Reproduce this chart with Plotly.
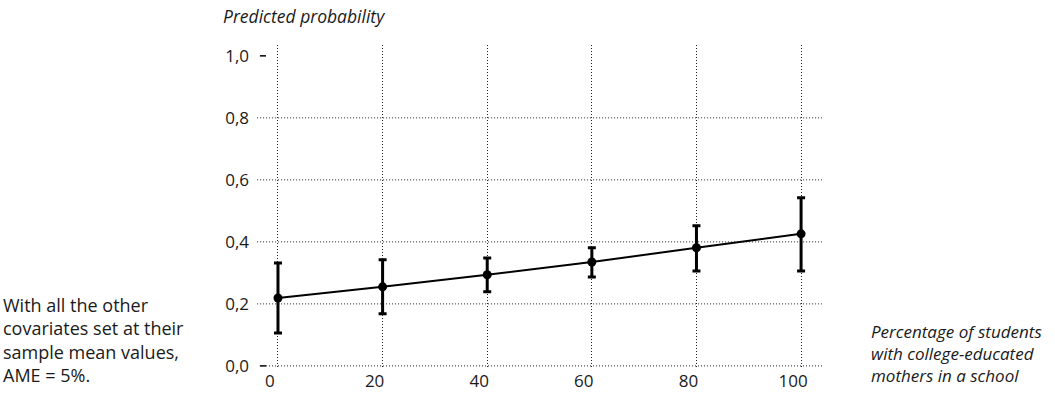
import plotly.graph_objects as go

# Data
share_pct = [0, 20, 40, 60, 80, 100]
pred_prob = [0.219, 0.255, 0.294, 0.335, 0.381, 0.426]
ci_upper = [0.332, 0.342, 0.348, 0.381, 0.452, 0.542]
ci_lower = [0.106, 0.168, 0.239, 0.287, 0.306, 0.306]
x_ticks = [0, 20, 40, 60, 80, 100]
y_ticks = [0.0, 0.2, 0.4, 0.6, 0.8, 1.0]
y_tick_text = ["0,0", "0,2", "0,4", "0,6", "0,8", "1,0"]
y_grid = [0.0, 0.2, 0.4, 0.6, 0.8]
y_dash = [0.0, 1.0]

err_plus = [u - p for u, p in zip(ci_upper, pred_prob)]
err_minus = [p - l for p, l in zip(pred_prob, ci_lower)]

FONT = "Open Sans"
TXT = "#1a1a1a"

fig = go.Figure()
fig.add_trace(go.Scatter(
    x=share_pct, y=pred_prob, mode="lines+markers",
    line=dict(color="black", width=2),
    marker=dict(color="black", size=9),
    error_y=dict(type="data", symmetric=False, array=err_plus, arrayminus=err_minus,
                 color="black", thickness=3, width=4),
    showlegend=False, hoverinfo="skip",
))

shapes = []
for gy in y_grid:
    x0 = 0 if gy == 0.0 else -0.016
    shapes.append(dict(type="line", xref="paper", yref="y", x0=x0, x1=1, y0=gy, y1=gy,
                       line=dict(color="#222", width=1, dash="1px,2px"), layer="below"))
for dy in y_dash:
    shapes.append(dict(type="line", xref="paper", yref="y", x0=-0.011, x1=0, y0=dy, y1=dy,
                       line=dict(color="black", width=1.5)))

fig.update_layout(
    width=1055, height=400,
    margin=dict(l=266, r=233, t=45, b=31),
    paper_bgcolor="white", plot_bgcolor="white",
    font=dict(family=FONT, size=17, color=TXT),
    shapes=shapes,
    hovermode=False,
    xaxis=dict(range=[-2.29, 104.0], tickvals=x_ticks, ticktext=[str(v) for v in x_ticks],
               showgrid=True, gridcolor="#222", gridwidth=1, griddash="1px,2px",
               zeroline=False, showline=False, ticks="", ticklabelshift=-8,
               automargin=False,
               tickfont=dict(size=17, family=FONT, color=TXT)),
    yaxis=dict(range=[-0.010, 1.035], tickvals=y_ticks, ticktext=y_tick_text,
               showgrid=False, zeroline=False, showline=False, ticks="",
               ticklabelstandoff=16, automargin=False,
               tickfont=dict(size=17, family=FONT, color=TXT)),
    annotations=[
        dict(text="<i>Predicted probability</i>", xref="paper", yref="paper",
             x=(221 - 266) / 556, y=1 + (45 - 16) / 324, xanchor="left", yanchor="middle",
             showarrow=False, font=dict(size=17.5, family=FONT, color=TXT)),
        dict(text="With all the other<br>covariates set at their<br>sample mean values,<br>AME = 5%.",
             xref="paper", yref="paper", x=(1 - 266) / 556, y=(369 - 340) / 324,
             xanchor="left", yanchor="middle", align="left", showarrow=False,
             font=dict(size=18, family=FONT, color=TXT)),
        dict(text="<i>Percentage of students<br>with college-educated<br>mothers in a school</i>",
             xref="paper", yref="paper", x=(869 - 266) / 556, y=(369 - 353) / 324,
             xanchor="left", yanchor="middle", align="left", showarrow=False,
             font=dict(size=17, family=FONT, color=TXT)),
    ],
)

# remove the browser's default 8px body margin so the figure sits at the page origin
fig.write_html("out.html", config={"displayModeBar": False},
               post_script="document.body.style.margin='0';")
